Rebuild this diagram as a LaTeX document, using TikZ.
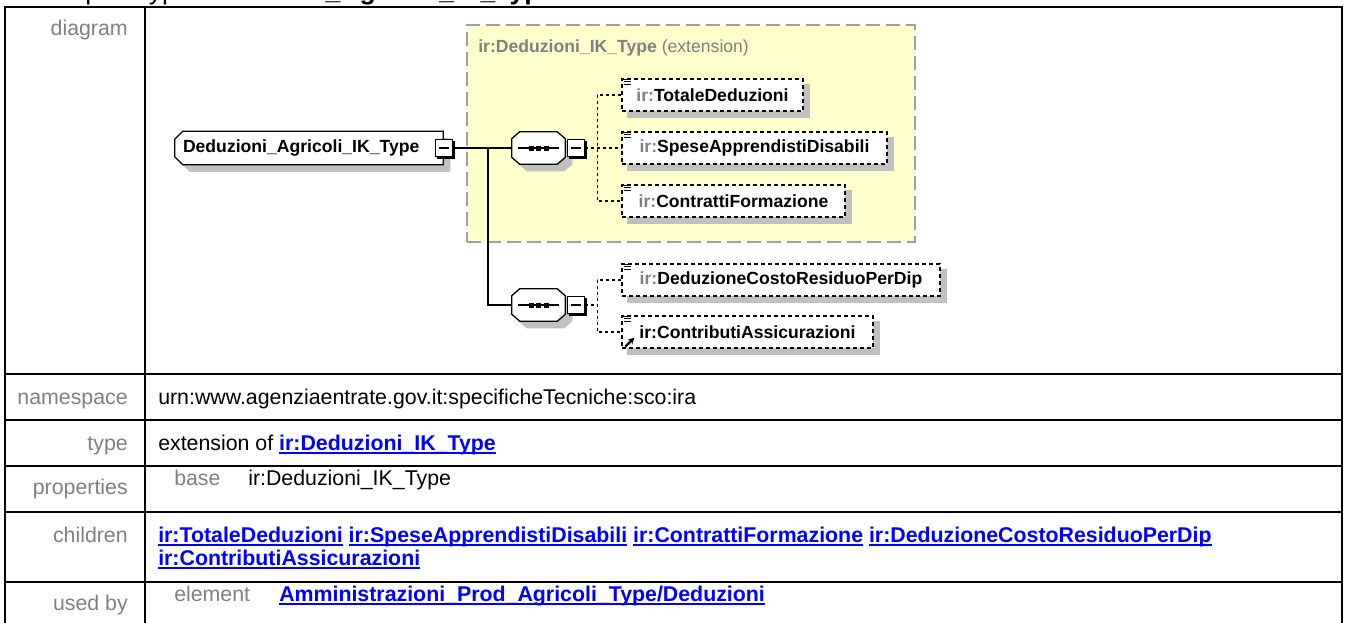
\documentclass[tikz,border=0pt]{standalone}
\usepackage{fontspec}
\setmainfont{Liberation Sans}
\usetikzlibrary{arrows.meta}
\newdimen\pxu \pxu=0.75pt
\definecolor{lblgray}{RGB}{128,128,128}
\definecolor{linkblue}{RGB}{0,0,255}
\definecolor{extfill}{RGB}{255,255,204}
\definecolor{extborder}{RGB}{160,160,160}
\definecolor{shadowgray}{RGB}{192,192,192}
\definecolor{prefgray}{RGB}{128,128,128}
\newcommand\ulnk[1]{\setbox0\hbox{#1}\rlap{\rule[-4\pxu]{\wd0}{1.6\pxu}}\box0\relax}
\pgfdeclarelayer{back}
\pgfdeclarelayer{shade}
\pgfsetlayers{back,shade,main}
\tikzset{
  tbl/.style={line width=1.5\pxu, draw=black},
  tlabel/.style={anchor=base east, text=lblgray, font=\fontsize{16}{19}\selectfont, inner sep=0pt},
  tval/.style={anchor=base west, text=black, font=\fontsize{16}{19}\selectfont, inner sep=0pt},
  tsub/.style={anchor=base west, text=lblgray, font=\fontsize{16}{19}\selectfont, inner sep=0pt},
  dfont/.style={font=\fontsize{13.2}{15}\selectfont\bfseries},
  holder/.style={shape=rectangle, draw=none, inner sep=0pt},
  childbox/.style={shape=rectangle, draw=black, fill=white, dash pattern=on 4\pxu off 3\pxu, line width=1.1\pxu, minimum height=32\pxu, inner sep=0pt, dfont},
  minusbox/.style={shape=rectangle, draw=black, fill=white, line width=1\pxu, minimum width=17\pxu, minimum height=17\pxu, inner sep=0pt},
  conn/.style={draw=black, line width=1.3\pxu},
  dconn/.style={draw=black, line width=1.1\pxu, dash pattern=on 3\pxu off 3\pxu},
  chamL/.style 2 args={insert path={
    ([shift={(8+#2,#2)}]#1.north west) -- ([shift={(#2,#2)}]#1.north east) --
    ([shift={(#2,#2)}]#1.south east) -- ([shift={(8+#2,#2)}]#1.south west) --
    ([shift={(#2,-8+#2)}]#1.south west) -- ([shift={(#2,8+#2)}]#1.north west) -- cycle}},
  chamA/.style 2 args={insert path={
    ([shift={(8+#2,#2)}]#1.north west) -- ([shift={(-8+#2,#2)}]#1.north east) --
    ([shift={(#2,7+#2)}]#1.north east) -- ([shift={(#2,-7+#2)}]#1.south east) --
    ([shift={(-8+#2,#2)}]#1.south east) -- ([shift={(8+#2,#2)}]#1.south west) --
    ([shift={(#2,-7+#2)}]#1.south west) -- ([shift={(#2,7+#2)}]#1.north west) -- cycle}},
}
\begin{document}
\begin{tikzpicture}[x=0.75pt,y=-0.75pt]
\useasboundingbox (0,0) rectangle (1346,622);
\begin{pgfonlayer}{back}
\fill[white] (0,0) rectangle (1346,622);
\end{pgfonlayer}

% title (cut off at top)
\begin{scope}
\clip (0,0) rectangle (1346,622);
\node[anchor=base west, inner sep=0pt, font=\fontsize{19.9}{22}\selectfont] (title) at (35,-0.5) {complexType \textbf{Deduzioni\_Agricoli\_IK\_Type}};
\end{scope}

% table grid
\draw[tbl] (5,650) -- (5,7) -- (1342,7) -- (1342,650);
\draw[tbl] (145,7) -- (145,650);
\foreach \yy in {374,420,466,512,582} \draw[tbl] (5,\yy) -- (1342,\yy);

% row labels
\node[tlabel] (lDiagram) at (128,35) {diagram};
\node[tlabel] (lNamespace) at (128,404) {namespace};
\node[tlabel] (lType) at (128,450) {type};
\node[tlabel] (lProps) at (128,494) {properties};
\node[tlabel] (lChildren) at (128,542) {children};
\node[tlabel] (lUsed) at (128,610) {used by};

% row values
\node[tval] (vNamespace) at (158,404) {urn:www.agenziaentrate.gov.it:specificheTecniche:sco:ira};
\node[tval] (vType) at (158,450) {extension of \textcolor{linkblue}{\bfseries\ulnk{ir:Deduzioni\_IK\_Type}}};
\node[tsub] (vBase) at (174,485) {base};
\node[tval] (vBaseVal) at (248,485) {ir:Deduzioni\_IK\_Type};
\node[tval, text=linkblue, font=\fontsize{16}{19}\selectfont\bfseries] (vKids1) at (158,542)
  {\ulnk{ir:TotaleDeduzioni} \ulnk{ir:SpeseApprendistiDisabili} \ulnk{ir:ContrattiFormazione} \ulnk{ir:DeduzioneCostoResiduoPerDip}};
\node[tval, text=linkblue, font=\fontsize{16}{19}\selectfont\bfseries] (vKids2) at (158,565) {\ulnk{ir:ContributiAssicurazioni}};
\node[tsub] (vElem) at (174,601) {element};
\node[tval, text=linkblue, font=\fontsize{16}{19}\selectfont\bfseries] (vUsed) at (279,601) {\ulnk{Amministrazioni\_Prod\_Agricoli\_Type/Deduzioni}};

% extension box
\begin{pgfonlayer}{back}
\node[shape=rectangle, fill=extfill, draw=extborder, line width=1.5\pxu, dash pattern=on 14\pxu off 6\pxu,
  minimum width=448\pxu, minimum height=217\pxu, inner sep=0pt] (ext) at (691,133.5) {};
\end{pgfonlayer}
\node[anchor=base west, inner sep=0pt, text=lblgray, font=\fontsize{13.2}{15}\selectfont] (extLabel) at (478,52.5)
  {\textbf{ir:Deduzioni\_IK\_Type} (extension)};

% root element
\node[holder, dfont, minimum width=268\pxu, minimum height=33\pxu, text width=252\pxu, align=left, inner xsep=8\pxu] (root) at (309,148) {Deduzioni\_Agricoli\_IK\_Type};
\begin{pgfonlayer}{shade}
\fill[shadowgray, chamL={root}{7}];
\filldraw[fill=white, draw=black, line width=1.3\pxu, chamL={root}{0}];
\end{pgfonlayer}
\node[minusbox] (rootM) at (444,148) {};

% sequence compositors
\node[holder, minimum width=53\pxu, minimum height=32\pxu] (seqA) at (538.5,148) {};
\node[holder, minimum width=53\pxu, minimum height=32\pxu] (seqB) at (538.5,305) {};
\begin{pgfonlayer}{shade}
\foreach \s in {seqA,seqB}{
  \fill[shadowgray, chamA={\s}{7}];
  \filldraw[fill=white, draw=black, line width=1.3\pxu, chamA={\s}{0}];
}
\end{pgfonlayer}
\foreach \s in {seqA,seqB}{
  \draw[line width=1.4\pxu] ([shift={(6,0)}]\s.west) -- ([shift={(-6,0)}]\s.east);
  \foreach \dx in {-7.5,0,7.5} \fill ([shift={(\dx-2.5,-2.5)}]\s.center) rectangle ([shift={(\dx+2.5,2.5)}]\s.center);
}
\node[minusbox] (seqAM) at (575.5,148) {};
\node[minusbox] (seqBM) at (575.5,305) {};

% minus signs and box shadows
\foreach \m in {rootM,seqAM,seqBM}{
  \draw[line width=1.2\pxu] ([shift={(-5,0)}]\m.center) -- ([shift={(5,0)}]\m.center);
  \draw[line width=2\pxu] ([shift={(2,1)}]\m.south west) -- ([shift={(1,1)}]\m.south east) -- ([shift={(1,2)}]\m.north east);
}

% child elements
\node[childbox, minimum width=181\pxu] (c1) at (712.5,95) {\textcolor{prefgray}{ir:}TotaleDeduzioni};
\node[childbox, minimum width=265\pxu] (c2) at (754.5,148) {\textcolor{prefgray}{ir:}SpeseApprendistiDisabili};
\node[childbox, minimum width=223\pxu] (c3) at (733.5,201) {\textcolor{prefgray}{ir:}ContrattiFormazione};
\node[childbox, minimum width=318\pxu] (c4) at (781,280) {\textcolor{prefgray}{ir:}DeduzioneCostoResiduoPerDip};
\node[childbox, minimum width=251\pxu] (c5) at (747.5,332) {ir:ContributiAssicurazioni};
\begin{pgfonlayer}{shade}
\foreach \c in {c1,c2,c3,c4,c5}
  \fill[shadowgray] ([shift={(6,6)}]\c.north west) rectangle ([shift={(6,6)}]\c.south east);
\end{pgfonlayer}
\foreach \c in {c1,c2,c3,c4,c5}
  \foreach \dy/\x in {1/8,3.5/10,6/10}
    \draw[line width=1\pxu] ([shift={(3,\dy)}]\c.north west) -- ([shift={(\x,\dy)}]\c.north west);
\draw[line width=2.2\pxu, -{Stealth[length=5pt,width=5pt]}] ([shift={(4,-2)}]c5.south west) -- ([shift={(13,-11)}]c5.south west);

% connectors
\coordinate (branch) at (488,148);
\draw[conn] (rootM.east) -- (seqA.west);
\draw[conn] (branch) |- (seqB.west);
\draw[dconn] (seqAM.east) -- (c2.west);
\draw[dconn] (c1.west) -- ++(-24,0) |- (c3.west);
\draw[dconn] (seqBM.east) -- ++(13,0);
\draw[dconn] (c4.west) -- ++(-24,0) |- (c5.west);
\end{tikzpicture}
\end{document}
